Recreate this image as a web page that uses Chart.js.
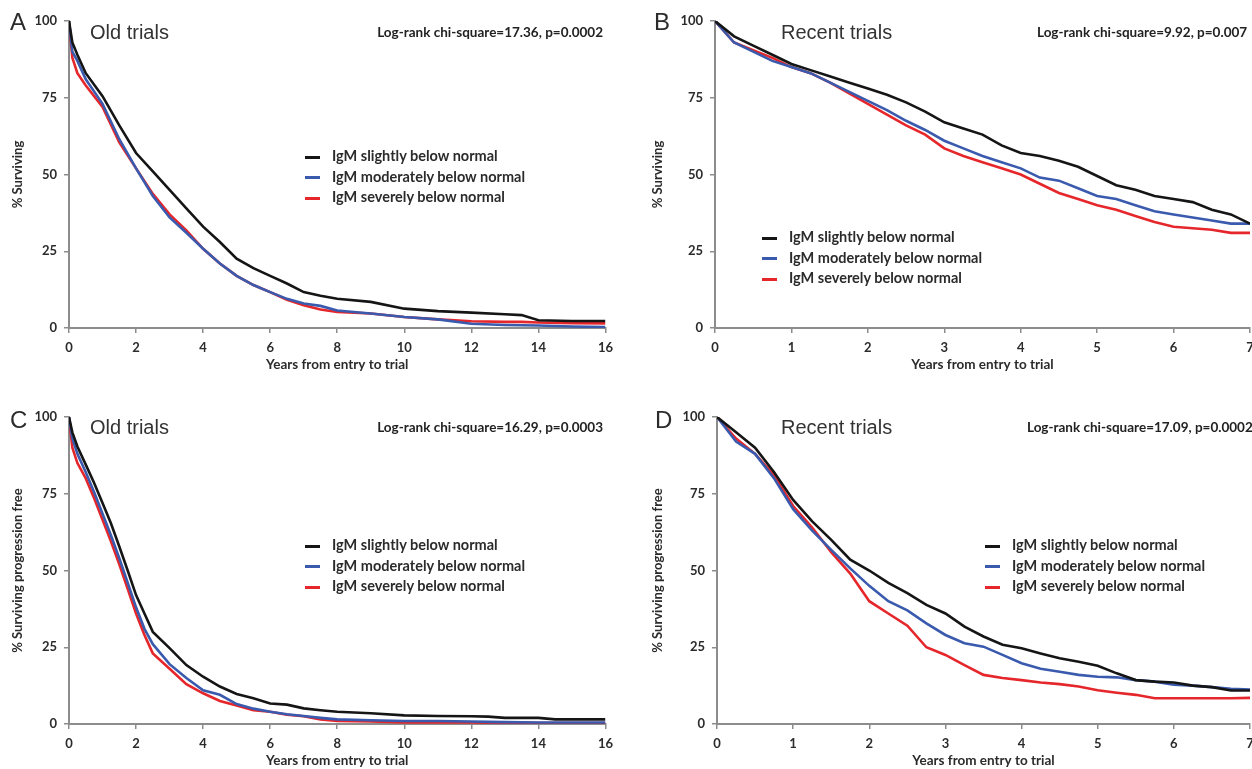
<!DOCTYPE html>
<html>
<head>
<meta charset="utf-8">
<script src="https://cdn.jsdelivr.net/npm/chart.js@4.4.1/dist/chart.umd.min.js"></script>
<style>
html, body { margin: 0; padding: 0; background: #fff; overflow: hidden; width: 1252px; height: 769px; position: relative; }
.box { position: absolute; }
.txt { position: absolute; white-space: nowrap; color: #2b2b2b; transform: translateY(-50%); }
.letter { font: 24px "Liberation Sans", Arial, sans-serif; }
.head { font: 20px "Liberation Sans", Arial, sans-serif; color: #333; }
.stat { font: bold 13.5px Lato, sans-serif; color: #222; }
.legend { position: absolute; font: bold 14.5px Lato, sans-serif; color: #2b2b2b; }
.legend div { height: 20.5px; line-height: 20.5px; white-space: nowrap; }
.legend span { display: inline-block; width: 15px; height: 3px; margin-right: 12px; vertical-align: middle; }
</style>
</head>
<body>

<div class="box" style="left:0;top:0;width:620px;height:380px"><canvas id="chartA"></canvas></div>
<div class="box" style="left:640px;top:0;width:640px;height:380px"><canvas id="chartB"></canvas></div>
<div class="box" style="left:0;top:396px;width:620px;height:380px"><canvas id="chartC"></canvas></div>
<div class="box" style="left:640px;top:396px;width:640px;height:380px"><canvas id="chartD"></canvas></div>

<div class="txt letter" style="left:10px;top:22px">A</div>
<div class="txt letter" style="left:654px;top:22px">B</div>
<div class="txt letter" style="left:10px;top:420px">C</div>
<div class="txt letter" style="left:655px;top:420px">D</div>

<div class="txt head" style="left:90px;top:32px">Old trials</div>
<div class="txt head" style="left:781px;top:32px">Recent trials</div>
<div class="txt head" style="left:90px;top:427px">Old trials</div>
<div class="txt head" style="left:781px;top:427px">Recent trials</div>

<div class="txt stat" style="right:649px;top:32px">Log-rank chi-square=17.36, p=0.0002</div>
<div class="txt stat" style="left:1037px;top:32px">Log-rank chi-square=9.92, p=0.007</div>
<div class="txt stat" style="right:649px;top:427px">Log-rank chi-square=16.29, p=0.0003</div>
<div class="txt stat" style="left:1027px;top:427px">Log-rank chi-square=17.09, p=0.0002</div>

<div class="legend" id="legA" style="left:305px;top:146px"></div>
<div class="legend" id="legB" style="left:762px;top:227px"></div>
<div class="legend" id="legC" style="left:305px;top:535px"></div>
<div class="legend" id="legD" style="left:985px;top:535px"></div>

<script>
// series names and colours, shared by all four panels
var seriesNames = ["IgM slightly below normal", "IgM moderately below normal", "IgM severely below normal"];
var seriesColors = ["#151515", "#3a5aae", "#e5262b"];

var yTicks = [0, 25, 50, 75, 100];

// A - old trials, overall survival
var yearsA = [0, 0.1, 0.25, 0.5, 1, 1.5, 2, 2.5, 3, 3.5, 4, 4.5, 5, 5.5, 6, 6.5, 7, 7.5, 8, 9, 10, 11, 12, 13, 13.5, 14, 15, 16];
var slightA = [100, 93, 89, 83, 75.5, 66, 57, 51, 45, 39, 33, 28, 22.6, 19.5, 17, 14.5, 11.7, 10.5, 9.5, 8.5, 6.3, 5.5, 5, 4.5, 4.2, 2.5, 2.3, 2.3];
var moderateA = [100, 90, 87, 81, 73, 61.5, 52, 43, 36, 31, 25.8, 21, 17, 14, 11.7, 9.5, 8, 7.2, 5.7, 4.7, 3.6, 2.8, 1.4, 1, 0.9, 0.8, 0.5, 0.3];
var severeA = [100, 88, 83, 79, 72, 60.5, 52, 43.7, 37, 31.8, 25.8, 21, 17, 14, 11.7, 9.2, 7.4, 6, 5.2, 4.7, 3.6, 2.8, 2.2, 2, 2, 1.8, 1.6, 1.5];

// B - recent trials, overall survival
var yearsB = [0, 0.25, 0.5, 0.75, 1, 1.25, 1.5, 1.75, 2, 2.25, 2.5, 2.75, 3, 3.25, 3.5, 3.75, 4, 4.25, 4.5, 4.75, 5, 5.25, 5.5, 5.75, 6, 6.25, 6.5, 6.75, 7];
var slightB = [100, 95, 92, 89, 86, 84, 82, 80, 78, 76, 73.5, 70.5, 67, 65, 63, 59.5, 57, 56, 54.5, 52.5, 49.5, 46.5, 45, 43, 42, 41, 38.5, 37, 34];
var moderateB = [100, 93, 90, 87, 85, 83, 80, 77, 74, 71, 67.5, 64.5, 61, 58.5, 56, 54, 52, 49, 48, 45.5, 43, 42, 40, 38, 37, 36, 35, 34, 34];
var severeB = [100, 93, 90.5, 88, 85, 83, 80, 76.5, 73, 69.5, 66, 63, 58.5, 56, 54, 52, 50, 47, 44, 42, 40, 38.5, 36.5, 34.5, 33, 32.5, 32, 31, 31];

// C - old trials, progression free
var yearsC = [0, 0.1, 0.25, 0.5, 0.75, 1, 1.25, 1.5, 1.75, 2, 2.25, 2.5, 3, 3.5, 4, 4.5, 5, 5.5, 6, 6.5, 7, 7.5, 8, 9, 10, 11, 12, 12.5, 13, 14, 14.5, 16];
var slightC = [100, 95, 90.4, 84.5, 78.5, 72, 65.4, 57.8, 50, 42, 36, 30, 24.7, 19.2, 15.4, 12.2, 9.8, 8.4, 6.7, 6.3, 5.1, 4.5, 4, 3.5, 2.8, 2.6, 2.5, 2.4, 2, 2, 1.5, 1.5];
var moderateC = [100, 93, 88, 82, 75.5, 68.5, 61.5, 54, 46, 38, 31, 26, 19.5, 15, 11, 9.5, 6.5, 5, 4, 3.2, 2.6, 2, 1.5, 1.2, 1, 1, 0.8, 0.7, 0.6, 0.5, 0.5, 0.5];
var severeC = [100, 90, 85, 80, 73.5, 66.5, 59.5, 52, 44, 36, 29, 23, 18, 13, 10, 7.5, 6, 4.5, 4, 3, 2.5, 1.5, 1, 0.8, 0.5, 0.5, 0.5, 0.4, 0.4, 0.3, 0.3, 0.3];

// D - recent trials, progression free
var yearsD = [0, 0.25, 0.5, 0.75, 1, 1.25, 1.5, 1.75, 2, 2.25, 2.5, 2.75, 3, 3.25, 3.5, 3.75, 4, 4.25, 4.5, 4.75, 5, 5.25, 5.5, 5.75, 6, 6.25, 6.5, 6.75, 7];
var slightD = [100, 95, 90, 82, 73, 66, 60, 53.5, 50, 46, 42.6, 38.8, 36, 31.7, 28.5, 25.8, 24.7, 23, 21.4, 20.3, 19, 16.5, 14.3, 13.8, 13.5, 12.5, 12, 10.9, 10.9];
var moderateD = [100, 92, 88, 80, 70, 63, 56.7, 50.7, 45, 40, 37, 32.8, 29, 26.3, 25.2, 22.5, 19.8, 18, 17, 16, 15.4, 15.2, 14.3, 13.8, 12.8, 12.5, 12, 11.5, 11.2];
var severeD = [100, 93, 88, 81, 71, 64, 56, 49, 40, 36, 32, 25, 22.5, 19.2, 16, 15, 14.3, 13.5, 13, 12.2, 11, 10.2, 9.5, 8.4, 8.4, 8.4, 8.4, 8.4, 8.5];

var tickFont = { family: "Lato", weight: "bold", size: 13 };
var titleFont = { family: "Lato", weight: "bold", size: 13.5 };
var axisGrey = "#8c8c8c";

function toPoints(xs, ys) {
    return xs.map(function (x, i) { return { x: x, y: ys[i] }; });
}

function makePanel(id, years, series, xMax, xStep, yTitle, yAxisWidth, rightPad) {
    var datasets = series.map(function (vals, i) {
        return {
            label: seriesNames[i],
            data: toPoints(years, vals),
            borderColor: seriesColors[i],
            borderWidth: 2.6,
            pointRadius: 0,
            tension: 0,
            fill: false
        };
    });

    return new Chart(document.getElementById(id), {
        type: "line",
        data: { datasets: datasets },
        options: {
            responsive: true,
            maintainAspectRatio: false,
            animation: false,
            layout: { padding: { top: 21, right: rightPad, bottom: 0, left: 0 } },
            plugins: { legend: { display: false }, tooltip: { enabled: false } },
            scales: {
                x: {
                    type: "linear",
                    min: 0,
                    max: xMax,
                    ticks: { stepSize: xStep, font: tickFont, color: "#2b2b2b", padding: 7, maxRotation: 0 },
                    grid: { drawOnChartArea: false, tickLength: 5, color: axisGrey, lineWidth: 1.5 },
                    border: { color: axisGrey, width: 2 },
                    title: { display: true, text: "Years from entry to trial", font: titleFont, color: "#2b2b2b", padding: { top: 0, bottom: 7 } },
                    afterFit: function (s) { s.height = 52; }
                },
                y: {
                    min: 0,
                    max: 100,
                    afterBuildTicks: function (s) { s.ticks = yTicks.map(function (v) { return { value: v }; }); },
                    ticks: { font: tickFont, color: "#2b2b2b", padding: 7 },
                    grid: { drawOnChartArea: false, tickLength: 5, color: axisGrey, lineWidth: 1.5 },
                    border: { color: axisGrey, width: 2 },
                    title: { display: true, text: yTitle, font: { family: "Lato", weight: "bold", size: 13 }, color: "#2b2b2b", padding: { top: 10, bottom: 0 } },
                    afterFit: function (s) { s.width = yAxisWidth; }
                }
            }
        }
    });
}

function makeLegend(id) {
    var box = document.getElementById(id);
    seriesNames.forEach(function (name, i) {
        var row = document.createElement("div");
        var sw = document.createElement("span");
        sw.style.background = seriesColors[i];
        row.appendChild(sw);
        row.appendChild(document.createTextNode(name));
        box.appendChild(row);
    });
}

makePanel("chartA", yearsA, [slightA, moderateA, severeA], 16, 2, "% Surviving", 69, 14);
makePanel("chartB", yearsB, [slightB, moderateB, severeB], 7, 1, "% Surviving", 75, 30);
makePanel("chartC", yearsC, [slightC, moderateC, severeC], 16, 2, "% Surviving progression free", 69, 14);
makePanel("chartD", yearsD, [slightD, moderateD, severeD], 7, 1, "% Surviving progression free", 77, 30);

["legA", "legB", "legC", "legD"].forEach(makeLegend);
</script>
</body>
</html>
